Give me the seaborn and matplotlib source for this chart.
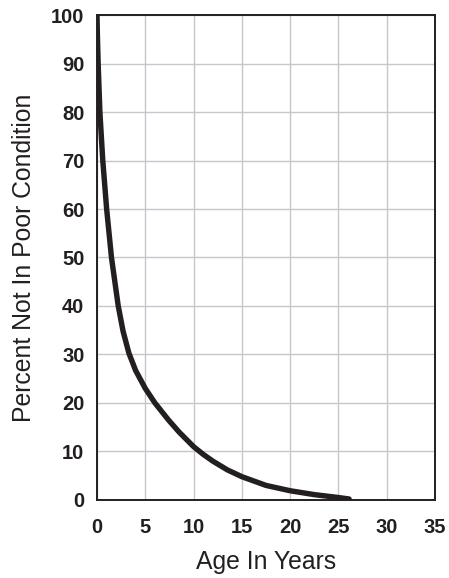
import numpy as np
import pandas as pd
import matplotlib
matplotlib.use('Agg')
import matplotlib.pyplot as plt
import seaborn as sns

# values
age_years = [0, 0.04, 0.12, 0.3, 0.6, 1.0, 1.5, 2.2, 2.7, 3.3, 4.0, 5.0, 6.0,
             7.4, 8.5, 10.0, 11.0, 12.0, 13.5, 15.0, 17.5, 20.0, 22.5, 25.0, 26.1]
pct_not_poor = [100, 96, 90, 80, 70, 60, 50, 40, 34.8, 30.3, 26.7, 23.0, 20.0,
                16.5, 14.0, 11.0, 9.4, 8.0, 6.2, 4.8, 3.0, 1.9, 1.1, 0.5, 0.2]
x_ticks = [0, 5, 10, 15, 20, 25, 30, 35]
y_ticks = [0, 10, 20, 30, 40, 50, 60, 70, 80, 90, 100]

df = pd.DataFrame({'age': age_years, 'pct': pct_not_poor})

sns.set_theme(style="white")
plt.rcParams['font.family'] = ['Liberation Sans', 'DejaVu Sans']

ink = '#231f20'
fig = plt.figure(figsize=(4.49, 5.78), dpi=100)
ax = fig.add_axes([0.216, 0.135, 0.753, 0.839])

sns.lineplot(data=df, x='age', y='pct', color=ink, linewidth=3.9,
             solid_capstyle='round', solid_joinstyle='round', ax=ax, zorder=3)

ax.set_xlim(0, 35)
ax.set_ylim(0, 100)
ax.set_xticks(x_ticks)
ax.set_yticks(y_ticks)
ax.grid(True, color='#c6c6cc', linewidth=1.0)
ax.set_axisbelow(True)
for s in ax.spines.values():
    s.set_color(ink)
    s.set_linewidth(1.4)
    s.set_visible(True)

ax.tick_params(axis='x', length=0, pad=13, labelsize=14.5, colors=ink)
ax.tick_params(axis='y', length=0, pad=9, labelsize=14.5, colors=ink)
for lbl in ax.get_xticklabels() + ax.get_yticklabels():
    lbl.set_fontweight('bold')

ax.set_xlabel('Age In Years', fontsize=17.8, color=ink, labelpad=9)
ax.set_ylabel('Percent Not In Poor Condition', fontsize=17.8, color=ink, labelpad=11)

fig.savefig('out.png', dpi=100)
